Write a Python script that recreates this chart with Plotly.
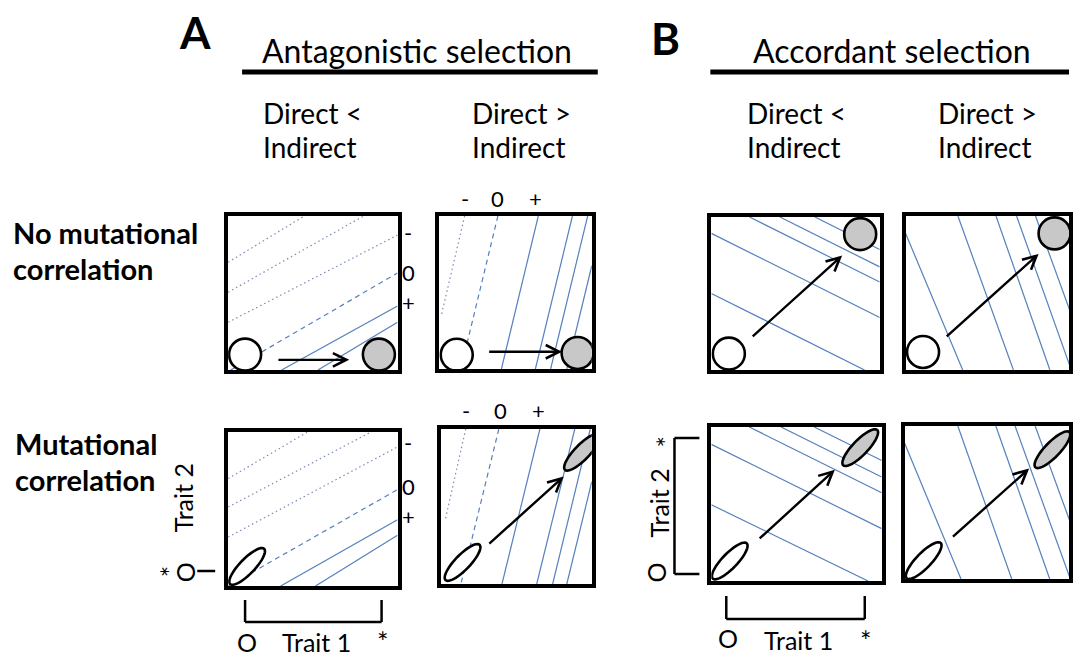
import numpy as np
import plotly.graph_objects as go

W, H = 1073, 659

# ---------------------------------------------------------------------------
# Fitness isoclines in trait space (Trait 1 on x, Trait 2 on y, both 0..1).
# Each segment is (x0, y0, x1, y1).
# ---------------------------------------------------------------------------
# Antagonistic selection, direct < indirect
ANT_LT_NOCORR_DOTTED = [(0, 0.70, 0.45, 1), (0, 0.505, 0.80, 1), (0, 0.31, 1, 0.876)]
ANT_LT_NOCORR_DASHED = [(0.015, 0, 1, 0.63)]
ANT_LT_NOCORR_SOLID = [(0.316, 0, 1, 0.416), (0.53, 0, 1, 0.31)]

ANT_LT_CORR_DOTTED = [(0, 0.698, 0.469, 1), (0, 0.513, 0.844, 1), (0, 0.318, 1, 0.903)]
ANT_LT_CORR_DASHED = [(0, 0, 1, 0.626)]
ANT_LT_CORR_SOLID = [(0.31, 0, 1, 0.43), (0.516, 0, 1, 0.33)]

# Antagonistic selection, direct > indirect
ANT_GT_NOCORR_DOTTED = [(0.166, 1, 0.015, 0.36)]
ANT_GT_NOCORR_DASHED = [(0.384, 1, 0.141, 0)]
ANT_GT_NOCORR_SOLID = [(0.649, 1, 0.407, 0), (0.873, 1, 0.63, 0),
                       (0.973, 1, 0.73, 0), (1, 0.675, 0.836, 0)]

ANT_GT_CORR_DOTTED = [(0.162, 1, 0.025, 0.41)]
ANT_GT_CORR_DASHED = [(0.382, 1, 0.13, 0)]
ANT_GT_CORR_SOLID = [(0.655, 1, 0.403, 0), (0.887, 1, 0.634, 0),
                     (0.99, 1, 0.74, 0), (1, 0.66, 0.834, 0)]

# Accordant selection, direct < indirect
ACC_LT_NOCORR_SOLID = [(0, 0.893, 1, 0.343), (0, 0.50, 0.91, 0), (0.227, 1, 1, 0.575),
                       (0.407, 1, 1, 0.674), (0.615, 1, 1, 0.788)]
ACC_LT_CORR_SOLID = [(0, 0.887, 1, 0.34), (0, 0.495, 0.92, 0), (0.223, 1, 1, 0.573),
                     (0.409, 1, 1, 0.675), (0.604, 1, 1, 0.782)]

# Accordant selection, direct > indirect
ACC_GT_NOCORR_SOLID = [(0, 0.887, 0.341, 0), (0.3125, 1, 0.644, 0), (0.54, 1, 0.862, 0),
                       (0.663, 1, 0.99, 0), (0.776, 1, 1, 0.33)]
ACC_GT_CORR_SOLID = [(0, 0.887, 0.337, 0), (0.318, 1, 0.64, 0), (0.545, 1, 0.867, 0),
                     (0.66, 1, 0.99, 0), (0.78, 1, 1, 0.34)]

# Population mean before (start) and after (end) selection, and response arrow
START = {
    "ant_lt_nocorr": (0.10, 0.10), "ant_gt_nocorr": (0.114, 0.093),
    "acc_lt_nocorr": (0.104, 0.107), "acc_gt_nocorr": (0.104, 0.117),
    "ant_lt_corr": (0.112, 0.127), "ant_gt_corr": (0.141, 0.139),
    "acc_lt_corr": (0.108, 0.13), "acc_gt_corr": (0.114, 0.12),
}
END = {
    "ant_lt_nocorr": (0.89, 0.10), "ant_gt_nocorr": (0.907, 0.105),
    "acc_lt_nocorr": (0.884, 0.888), "acc_gt_nocorr": (0.89, 0.887),
    "ant_gt_corr": (0.935, 0.85),
    "acc_lt_corr": (0.874, 0.866), "acc_gt_corr": (0.883, 0.845),
}
RESPONSE = {
    "ant_lt_nocorr": (0.288, 0.066, 0.715, 0.066),
    "ant_gt_nocorr": (0.317, 0.113, 0.805, 0.113),
    "acc_lt_nocorr": (0.237, 0.211, 0.777, 0.748),
    "acc_gt_nocorr": (0.237, 0.209, 0.795, 0.754),
    "ant_gt_corr": (0.309, 0.252, 0.813, 0.693),
    "acc_lt_corr": (0.275, 0.268, 0.725, 0.722),
    "acc_gt_corr": (0.28, 0.268, 0.744, 0.722),
}

# ---------------------------------------------------------------------------
# Panel layout (outer frame in pixels: left, top, right, bottom)
# ---------------------------------------------------------------------------
PANELS = [
    ("ant_lt_nocorr", (225, 212, 403, 374), ANT_LT_NOCORR_DOTTED, ANT_LT_NOCORR_DASHED, ANT_LT_NOCORR_SOLID, False),
    ("ant_gt_nocorr", (437, 212, 598, 373), ANT_GT_NOCORR_DOTTED, ANT_GT_NOCORR_DASHED, ANT_GT_NOCORR_SOLID, False),
    ("acc_lt_nocorr", (710, 213, 887, 374), [], [], ACC_LT_NOCORR_SOLID, False),
    ("acc_gt_nocorr", (905, 212, 1081, 374), [], [], ACC_GT_NOCORR_SOLID, False),
    ("ant_lt_corr", (225, 428, 403, 590), ANT_LT_CORR_DOTTED, ANT_LT_CORR_DASHED, ANT_LT_CORR_SOLID, True),
    ("ant_gt_corr", (439, 425, 598, 588), ANT_GT_CORR_DOTTED, ANT_GT_CORR_DASHED, ANT_GT_CORR_SOLID, True),
    ("acc_lt_corr", (710, 423, 889, 585), [], [], ACC_LT_CORR_SOLID, True),
    ("acc_gt_corr", (904, 422, 1080, 583), [], [], ACC_GT_CORR_SOLID, True),
]

FRAME_W = 4
BLUE = "#5580bd"
DOT_BLUE = "#7d8bb3"
FONT = "Lato"


def px(x):
    return x / W


def py(y):
    return 1 - y / H


def seg_xy(segs):
    xs, ys = [], []
    for x0, y0, x1, y1 in segs:
        xs += [x0, x1, None]
        ys += [y0, y1, None]
    return xs, ys


def ellipse_path(a, b, deg, n=48):
    th = np.radians(deg)
    t = np.linspace(0, 2 * np.pi, n, endpoint=False)
    ex = a * np.cos(t) * np.cos(th) - b * np.sin(t) * np.sin(th)
    ey = a * np.cos(t) * np.sin(th) + b * np.sin(t) * np.cos(th)
    pts = [f"{x:.2f},{y:.2f}" for x, y in zip(ex, ey)]
    return "M" + " L".join(pts) + " Z"


fig = go.Figure()
shapes, annotations = [], []
ELLIPSE = ellipse_path(24.5, 7.5, 46)

for i, (key, (L, T, R, B), dotted, dashed, solid, corr) in enumerate(PANELS, start=1):
    xa, ya = f"x{i}" if i > 1 else "x", f"y{i}" if i > 1 else "y"
    x0p, x1p = L + FRAME_W, R - FRAME_W
    y0p, y1p = T + FRAME_W, B - FRAME_W
    xmax = 1.0
    if x1p > W:
        xmax = (W - x0p) / (x1p - x0p)
        x1p = W
    layout_x = dict(domain=[px(x0p), px(x1p)], range=[0, xmax], anchor=ya,
                    showline=True, mirror=True, linewidth=FRAME_W, linecolor="black",
                    showgrid=False, zeroline=False, showticklabels=False, ticks="",
                    fixedrange=True)
    layout_y = dict(domain=[py(y1p), py(y0p)], range=[0, 1], anchor=xa,
                    showline=True, mirror=True, linewidth=FRAME_W, linecolor="black",
                    showgrid=False, zeroline=False, showticklabels=False, ticks="",
                    fixedrange=True)
    fig.update_layout({f"xaxis{i if i > 1 else ''}": layout_x,
                       f"yaxis{i if i > 1 else ''}": layout_y})

    for segs, color, dash in ((dotted, DOT_BLUE, "1.5px,3px"), (dashed, BLUE, "5px,4px"),
                              (solid, BLUE, "solid")):
        if segs:
            xs, ys = seg_xy(segs)
            fig.add_trace(go.Scatter(x=xs, y=ys, mode="lines", xaxis=xa, yaxis=ya,
                                     line=dict(color=color, width=1.2, dash=dash),
                                     hoverinfo="skip", showlegend=False))

    marks = [(START[key], "white")]
    if key in END:
        marks.append((END[key], "#c8c8c8"))
    for (cx, cy), fill in marks:
        common = dict(xref=xa, yref=ya, xsizemode="pixel", ysizemode="pixel",
                      xanchor=cx, yanchor=cy, fillcolor=fill,
                      line=dict(color="black", width=2.6))
        if corr:
            shapes.append(dict(type="path", path=ELLIPSE, **common))
        else:
            shapes.append(dict(type="circle", x0=-16, x1=16, y0=-16, y1=16, **common))

    if key in RESPONSE:
        ax0, ay0, ax1, ay1 = RESPONSE[key]
        annotations.append(dict(x=ax1, y=ay1, ax=ax0, ay=ay0, xref=xa, yref=ya,
                                axref=xa, ayref=ya, text="", showarrow=True,
                                arrowhead=5, arrowsize=1.1, arrowwidth=2.4,
                                arrowcolor="black", standoff=0, startstandoff=0))

# ---------------------------------------------------------------------------
# Text
# ---------------------------------------------------------------------------
def text(x, y, s, size, bold=False, angle=0, xanchor="center"):
    annotations.append(dict(x=px(x), y=py(y), xref="paper", yref="paper", text=s,
                            showarrow=False, xanchor=xanchor, yanchor="middle",
                            textangle=angle,
                            font=dict(family=FONT, size=size, color="black",
                                      weight="bold" if bold else "normal")))


text(196, 32, "A", 44, bold=True)
text(668, 38, "B", 44, bold=True)
text(419, 50, "Antagonistic selection", 32)
text(895, 50, "Accordant selection", 32)

for xl in (262, 472, 748, 940):
    text(xl, 113, "Direct <" if xl in (262, 748) else "Direct >", 28, xanchor="left")
    text(xl, 147, "Indirect", 28, xanchor="left")

text(11, 232, "No mutational", 29, bold=True, xanchor="left")
text(11, 268, "correlation", 29, bold=True, xanchor="left")
text(13, 443, "Mutational", 29, bold=True, xanchor="left")
text(13, 479, "correlation", 29, bold=True, xanchor="left")

# selection-gradient sign labels
for s, y in (("-", 232), ("0", 272), ("+", 303)):
    text(410, y, s, 22)
for s, y in (("-", 442), ("0", 486), ("+", 516)):
    text(410, y, s, 22)
for s, x in (("-", 467), ("0", 499), ("+", 538)):
    text(x, 198, s, 22)
for s, x in (("-", 468), ("0", 502), ("+", 541)):
    text(x, 410, s, 22)

# trait axes
text(248, 642, "O", 25)
text(318, 642, "Trait 1", 25)
text(384, 641, "*", 27)
text(731, 638, "O", 25)
text(801, 640, "Trait 1", 25)
text(869, 640, "*", 27)

text(184, 498, "Trait 2", 25, angle=-90)
text(186, 572, "O", 25, angle=-90)
text(171, 572, "*", 27, angle=-90)
text(661, 503, "Trait 2", 25, angle=-90)
text(658, 573, "O", 25, angle=-90)
text(668, 442, "*", 27, angle=-90)


def pline(x0, y0, x1, y1, width):
    shapes.append(dict(type="line", xref="paper", yref="paper", x0=px(x0), y0=py(y0),
                       x1=px(x1), y1=py(y1), line=dict(color="black", width=width)))


# section rules under the headings
pline(243, 72, 600, 72, 5)
pline(713, 72, 1073, 72, 5)

# trait range brackets
pline(246, 600, 246, 622, 2.5)
pline(246, 622, 383, 622, 2.5)
pline(383, 600, 383, 622, 2.5)
pline(729, 596, 729, 619, 2.5)
pline(729, 619, 868, 619, 2.5)
pline(868, 596, 868, 619, 2.5)
pline(198, 571, 216, 571, 2.5)
pline(677, 438, 677, 574, 2.5)
pline(677, 438, 702, 438, 2.5)
pline(677, 574, 702, 574, 2.5)

fig.update_layout(width=W, height=H, margin=dict(l=0, r=0, t=0, b=0),
                  paper_bgcolor="white", plot_bgcolor="white",
                  shapes=shapes, annotations=annotations, showlegend=False)

fig.write_html("out.html", config={"displayModeBar": False})
